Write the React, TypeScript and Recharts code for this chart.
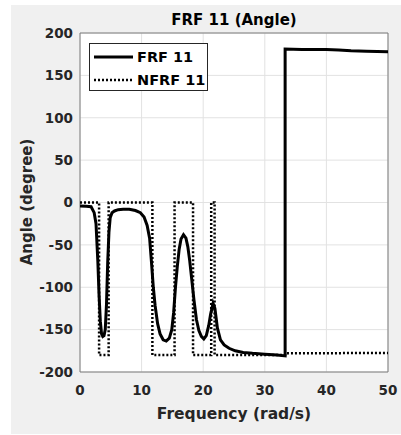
import {
  LineChart,
  Line,
  XAxis,
  YAxis,
  CartesianGrid,
  Legend,
  ReferenceArea,
} from "recharts";

// FRF 11 phase (solid)
const frfFreq = [
  0, 1, 1.8, 2.3, 2.6, 2.9, 3.1, 3.3, 3.5, 3.7, 3.9, 4.1, 4.3, 4.5, 4.7, 4.9,
  5.2, 5.6, 6.2, 7, 8, 9, 9.8, 10.4, 10.9, 11.3, 11.6, 11.9, 12.2, 12.6, 13.0,
  13.5, 14.0, 14.5, 14.9, 15.2, 15.5, 15.8, 16.1, 16.4, 16.8, 17.2, 17.5, 17.8,
  18.1, 18.5, 18.9, 19.3, 19.7, 20.1, 20.5, 20.9, 21.2, 21.6, 21.9, 22.3, 22.8,
  23.4, 24.2, 25.2, 26.5, 28, 30, 32, 33.3, 33.3, 36, 40, 42, 44, 46.5, 50,
];
const frfAngle = [
  -4, -4.5, -5, -12, -25, -70, -110, -140, -155, -158, -157, -150, -120, -70,
  -35, -18, -12, -10, -8.5, -8, -8, -9.5, -12, -17, -27, -42, -70, -100, -122,
  -143, -155, -162, -163.5, -160, -150, -130, -100, -75, -55, -43, -38, -42,
  -52, -68, -88, -115, -138, -151, -158, -161, -157, -145, -132, -119, -125,
  -148, -162, -168, -172, -175, -177, -178, -179, -180, -181, 181, 180.5, 180.5,
  180, 179, 178.5, 178,
];

// NFRF 11 phase (dotted)
const nfrfFreq = [
  0, 3.1, 3.1, 4.65, 4.65, 11.75, 11.75, 15.35, 15.35, 18.35, 18.35, 21.3,
  21.3, 21.85, 21.85, 33.3, 33.4, 50,
];
const nfrfAngle = [
  0, 0, -180, -180, 0, 0, -180, -180, 0, 0, -180, -180, 0, 0, -180, -180, -178,
  -177.5,
];

const freqTicks = [0, 10, 20, 30, 40, 50];
const angleTicks = [-200, -150, -100, -50, 0, 50, 100, 150, 200];
const seriesNames = ["FRF 11", "NFRF 11"];

const frfData = frfFreq.map((f, i) => ({ freq: f, angle: frfAngle[i] }));
const nfrfData = nfrfFreq.map((f, i) => ({ freq: f, angle: nfrfAngle[i] }));

const font = '"DejaVu Sans", Verdana, sans-serif';
const textColor = "#262626";
const tickStyle = {
  fill: textColor,
  fontSize: 13.5,
  fontWeight: 700,
  fontFamily: font,
};

const LegendBox = () => (
  <div
    style={{
      width: 119,
      height: 48,
      boxSizing: "border-box",
      border: `1px solid ${textColor}`,
      background: "#fff",
    }}
  >
    <svg width={117} height={46}>
      {seriesNames.map((name, i) => (
        <g key={name}>
          <line
            x1={4}
            x2={43}
            y1={13 + i * 23}
            y2={13 + i * 23}
            stroke="#000"
            strokeWidth={i === 0 ? 3 : 2.5}
            strokeDasharray={i === 0 ? undefined : "2 2"}
          />
          <text
            x={47}
            y={18 + i * 23}
            fontFamily={font}
            fontWeight={700}
            fontSize={14.5}
            fill="#000"
          >
            {name}
          </text>
        </g>
      ))}
    </svg>
  </div>
);

const App = () => {
  return (
    <div
      style={{
        position: "absolute",
        left: 0,
        top: 0,
        width: 401,
        height: 435,
        background: "#fff",
        fontFamily: font,
      }}
    >
      <div
        style={{
          position: "absolute",
          left: 11,
          top: 5,
          width: 390,
          height: 429,
          background: "#f0f0f0",
        }}
      />
      <div
        style={{
          position: "absolute",
          left: 0,
          top: 13,
          width: 468,
          textAlign: "center",
          fontSize: 15,
          lineHeight: "15px",
          fontWeight: 700,
          color: "#000",
        }}
      >
        FRF 11 (Angle)
      </div>
      <div style={{ position: "absolute", left: 0, top: 0 }}>
        <LineChart
          width={401}
          height={435}
          margin={{ top: 33, right: 13, left: 0, bottom: 0 }}
        >
          <CartesianGrid stroke="#e2e2e2" fill="#fff" />
          <XAxis
            type="number"
            dataKey="freq"
            domain={[0, 50]}
            ticks={freqTicks}
            allowDataOverflow
            height={63}
            axisLine={false}
            tickLine={false}
            tickSize={0}
            tickMargin={13}
            tick={tickStyle}
            interval={0}
            label={{
              value: "Frequency (rad/s)",
              position: "insideBottom",
              offset: 16,
              fill: textColor,
              fontSize: 15.5,
              fontWeight: 700,
              fontFamily: font,
            }}
          />
          <YAxis
            type="number"
            domain={[-200, 200]}
            ticks={angleTicks}
            allowDataOverflow
            width={80}
            axisLine={false}
            tickLine={false}
            tickSize={0}
            tickMargin={7}
            tick={tickStyle}
            interval={0}
            label={{
              content: () => (
                <text
                  x={32}
                  y={202}
                  transform="rotate(-90, 32, 202)"
                  textAnchor="middle"
                  fill={textColor}
                  fontSize={15}
                  fontWeight={700}
                  fontFamily={font}
                >
                  Angle (degree)
                </text>
              ),
            }}
          />
          <ReferenceArea
            x1={0}
            x2={50}
            y1={-200}
            y2={200}
            fill="none"
            stroke="#7d7d7d"
            strokeWidth={1}
            ifOverflow="visible"
          />
          <Legend
            layout="vertical"
            align="center"
            verticalAlign="middle"
            wrapperStyle={{ left: 89, top: 43, width: 119, height: 48 }}
            content={() => <LegendBox />}
          />
          <Line
            data={frfData}
            dataKey="angle"
            name={seriesNames[0]}
            type="linear"
            stroke="#000"
            strokeWidth={3}
            dot={false}
            activeDot={false}
            isAnimationActive={false}
          />
          <Line
            data={nfrfData}
            dataKey="angle"
            name={seriesNames[1]}
            type="linear"
            stroke="#000"
            strokeWidth={2.5}
            strokeDasharray="2 2"
            dot={false}
            activeDot={false}
            isAnimationActive={false}
          />
        </LineChart>
      </div>
    </div>
  );
};

export default App;
